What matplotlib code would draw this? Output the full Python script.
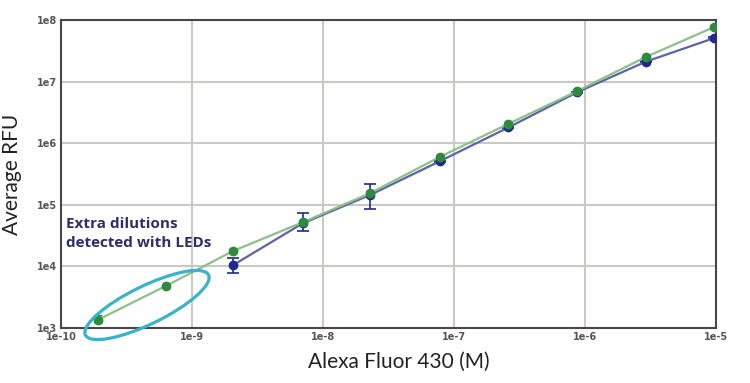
import matplotlib
matplotlib.use('Agg')
import matplotlib.pyplot as plt
from matplotlib.patches import Ellipse
from matplotlib.ticker import FixedLocator, FixedFormatter

# concentrations (M)
conc = [1.9e-10, 6.3e-10, 2.06e-9, 7.0e-9, 2.3e-8, 7.8e-8, 2.6e-7, 8.7e-7, 2.9e-6, 9.7e-6]
led_rfu = [1.35e3, 4.8e3, 1.78e4, 5.2e4, 1.55e5, 6.0e5, 2.06e6, 7.0e6, 2.5e7, 7.7e7]
led_err_lo = [150, 200, 1500, 3000, 10000, 20000, 50000, 1e5, 5e5, 1e6]
led_err_hi = [250, 200, 1500, 3000, 10000, 20000, 50000, 1e5, 5e5, 1e6]
lamp_conc = conc[2:]
lamp_rfu = [1.05e4, 5.0e4, 1.45e5, 5.1e5, 1.8e6, 6.7e6, 2.1e7, 5.1e7]
lamp_err_lo = [2.7e3, 1.2e4, 6.0e4, 1e4, 5e4, 1e5, 5e5, 1e6]
lamp_err_hi = [3.0e3, 2.4e4, 7.5e4, 1e4, 5e4, 1e5, 5e5, 1e6]

xticks = [1e-10, 1e-9, 1e-8, 1e-7, 1e-6, 1e-5]
xlabels = ['1e-10', '1e-9', '1e-8', '1e-7', '1e-6', '1e-5']
yticks = [1e3, 1e4, 1e5, 1e6, 1e7, 1e8]
ylabels = ['1e3', '1e4', '1e5', '1e6', '1e7', '1e8']

fig = plt.figure(figsize=(7.5, 3.83), dpi=100)
ax = fig.add_axes([61/750, 1 - 328/383, 655/750, 308/383])
ax.set_xscale('log')
ax.set_yscale('log')
ax.set_xlim(1e-10, 1e-5)
ax.set_ylim(1e3, 1e8)

ax.errorbar(lamp_conc, lamp_rfu, yerr=[lamp_err_lo, lamp_err_hi], color='#5e62ad',
            mfc='#1f2b8c', mec='#1f2b8c', ecolor='#1f2b8c', marker='o', ms=6,
            lw=1.6, capsize=4, elinewidth=1.2, capthick=1.2, zorder=3)
ax.errorbar(conc, led_rfu, yerr=[led_err_lo, led_err_hi], color='#8cc08a',
            mfc='#2e8b3e', mec='#2e8b3e', ecolor='#2e8b3e', marker='o', ms=6,
            lw=1.6, capsize=3, elinewidth=1.0, capthick=1.0, zorder=4)

ax.xaxis.set_major_locator(FixedLocator(xticks))
ax.xaxis.set_major_formatter(FixedFormatter(xlabels))
ax.yaxis.set_major_locator(FixedLocator(yticks))
ax.yaxis.set_major_formatter(FixedFormatter(ylabels))
ax.minorticks_off()
ax.tick_params(length=0, labelsize=7, colors='#555555', pad=3)
for lab in ax.get_xticklabels() + ax.get_yticklabels():
    lab.set_fontweight('bold')
ax.grid(True, color='#cdc8c4', lw=1.5)
ax.set_axisbelow(True)
for s in ax.spines.values():
    s.set_color('#4a4646')
    s.set_linewidth(1.5)

ax.set_xlabel('Alexa Fluor 430 (M)', fontsize=15, color='#222222', family='Lato')
ax.xaxis.set_label_coords(0.515, -0.078)
ax.set_ylabel('Average RFU', fontsize=15, color='#222222', family='Lato')
ax.yaxis.set_label_coords(-0.06, 0.5)

ax.text(0.008, 0.36, 'Extra dilutions\ndetected with LEDs', transform=ax.transAxes,
        fontsize=11, fontweight='bold', color='#2d2e6b', family='Open Sans',
        linespacing=1.45, va='top', ha='left')

ell = Ellipse((1.47, 0.78), 1.37, 0.38, angle=26, transform=fig.dpi_scale_trans,
              fill=False, ec='#3ab2c9', lw=2.3, clip_on=False, zorder=5)
fig.add_artist(ell)

fig.savefig('out.png', dpi=100)
